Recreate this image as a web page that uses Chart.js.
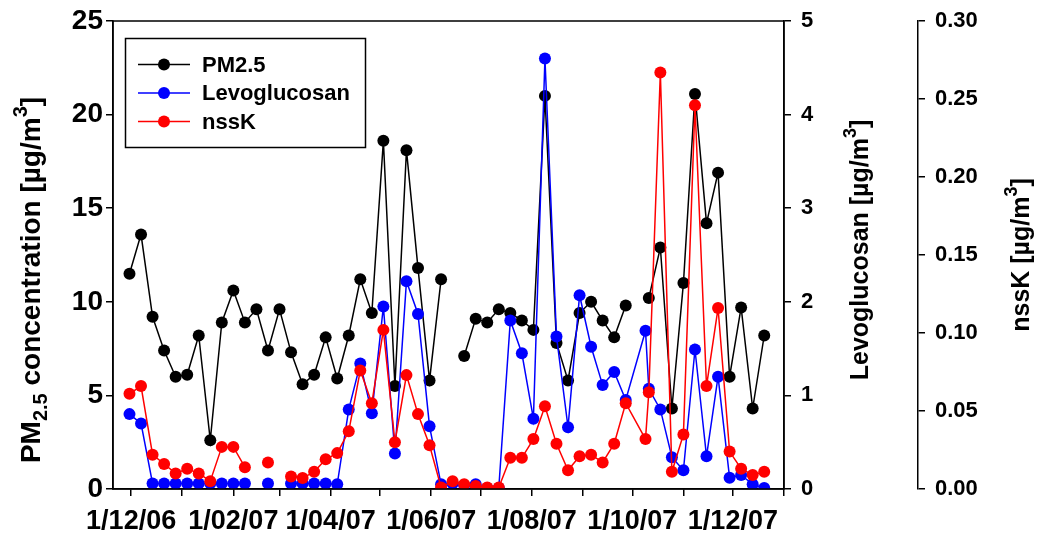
<!DOCTYPE html>
<html>
<head>
<meta charset="utf-8">
<script src="https://cdn.jsdelivr.net/npm/chart.js@4"></script>
<style>
  html, body { margin: 0; padding: 0; background: #fff; }
  #wrap { width: 1039px; height: 533px; }
</style>
</head>
<body>
<div id="wrap"><canvas id="chartLineView"></canvas></div>
<script>
// weekly filter samples (dates are yyyy-mm-dd)
const sampleDates = [
  "2006-11-30", "2006-12-07", "2006-12-14", "2006-12-21", "2006-12-28",
  "2007-01-04", "2007-01-11", "2007-01-18", "2007-01-25", "2007-02-01",
  "2007-02-08", "2007-02-15", "2007-02-22", "2007-03-01", "2007-03-08",
  "2007-03-15", "2007-03-22", "2007-03-29", "2007-04-05", "2007-04-12",
  "2007-04-19", "2007-04-26", "2007-05-03", "2007-05-10", "2007-05-17",
  "2007-05-24", "2007-05-31", "2007-06-07", "2007-06-14", "2007-06-21",
  "2007-06-28", "2007-07-05", "2007-07-12", "2007-07-19", "2007-07-26",
  "2007-08-02", "2007-08-09", "2007-08-16", "2007-08-23", "2007-08-30",
  "2007-09-06", "2007-09-13", "2007-09-20", "2007-09-27", "2007-10-09",
  "2007-10-11", "2007-10-18", "2007-10-25", "2007-11-01", "2007-11-08",
  "2007-11-15", "2007-11-22", "2007-11-29", "2007-12-06", "2007-12-13",
  "2007-12-20"
];

// PM2.5 [ug/m3]
const pm25 = [
  11.5, 13.6, 9.2, 7.4, 6.0, 6.1, 8.2, 2.6, 8.9, 10.6,
  8.9, 9.6, 7.4, 9.6, 7.3, 5.6, 6.1, 8.1, 5.9, 8.2,
  11.2, 9.4, 18.6, 5.5, 18.1, 11.8, 5.8, 11.2, null, 7.1,
  9.1, 8.9, 9.6, 9.4, 9.0, 8.5, 21.0, 7.8, 5.8, 9.4,
  10.0, 9.0, 8.1, 9.8, null, 10.2, 12.9, 4.3, 11.0, 21.1,
  14.2, 16.9, 6.0, 9.7, 4.3, 8.2
];

// levoglucosan [ug/m3]
const levoglucosan = [
  0.80, 0.70, 0.06, 0.06, 0.06, 0.06, 0.06, 0.06, 0.06, 0.06,
  0.06, null, 0.06, null, 0.06, 0.06, 0.06, 0.06, 0.05, 0.85,
  1.34, 0.81, 1.95, 0.38, 2.22, 1.87, 0.67, 0.05, 0.06, 0.04,
  0.05, 0.01, 0.01, 1.80, 1.45, 0.75, 4.60, 1.63, 0.66, 2.07,
  1.52, 1.11, 1.25, 0.95, 1.69, 1.07, 0.85, 0.34, 0.20, 1.49,
  0.35, 1.20, 0.12, 0.15, 0.05, 0.01
];

// non sea-salt potassium [ug/m3]
const nssK = [
  0.061, 0.066, 0.022, 0.016, 0.010, 0.013, 0.010, 0.005, 0.027, 0.027,
  0.014, null, 0.017, null, 0.008, 0.007, 0.011, 0.019, 0.023, 0.037,
  0.076, 0.055, 0.102, 0.030, 0.073, 0.048, 0.028, 0.001, 0.005, 0.003,
  0.002, 0.001, 0.001, 0.020, 0.020, 0.032, 0.053, 0.029, 0.012, 0.021,
  0.022, 0.017, 0.029, 0.055, 0.032, 0.062, 0.267, 0.011, 0.035, 0.246,
  0.066, 0.116, 0.024, 0.013, 0.009, 0.011
];

// month ticks on the time axis, labelled every second month
const monthTicks = [
  "2006-12-01", "2007-01-01", "2007-02-01", "2007-03-01", "2007-04-01",
  "2007-05-01", "2007-06-01", "2007-07-01", "2007-08-01", "2007-09-01",
  "2007-10-01", "2007-11-01", "2007-12-01", "2008-01-01"
];
const monthLabels = [
  "1/12/06", "", "1/02/07", "", "1/04/07", "", "1/06/07", "",
  "1/08/07", "", "1/10/07", "", "1/12/07", ""
];

const FONT = "'Liberation Sans', Arial, sans-serif";
const DAY0 = Date.parse("2006-12-01");
const toDay = (d) => (Date.parse(d) - DAY0) / 86400000;

const points = (vals) => sampleDates.map((d, i) => ({ x: toDay(d), y: vals[i] }));

const series = (label, vals, color, axis, order) => ({
  label: label,
  data: points(vals),
  yAxisID: axis,
  borderColor: color,
  backgroundColor: color,
  pointBackgroundColor: color,
  pointBorderColor: color,
  pointRadius: 6,
  pointBorderWidth: 0,
  borderWidth: 1.5,
  tension: 0,
  spanGaps: false,
  order: order,
});

const data1 = {
  datasets: [
    series("PM2.5", pm25, "#000000", "y", 3),
    series("Levoglucosan", levoglucosan, "#0000ff", "y1", 2),
    series("nssK", nssK, "#ff0000", "y2", 1),
  ],
};

const bigFont = { family: FONT, size: 27, weight: "bold" };
const leftFont = { family: FONT, size: 28, weight: "bold", lineHeight: 1 };
const smallFont = { family: FONT, size: 22, weight: "bold", lineHeight: 1 };
const axisGrid = { display: true, drawOnChartArea: false, drawTicks: true, tickLength: 7, color: "#000", lineWidth: 1.5 };
const axisBorder = { display: true, color: "#000", width: 1.5 };

// frame round the plot area plus the inside legend box
const framePlugin = {
  id: "frame",
  afterDatasetsDraw(chart) {
    const { ctx, chartArea: a } = chart;
    ctx.save();
    ctx.strokeStyle = "#000";
    ctx.lineWidth = 1.5;
    ctx.strokeRect(a.left, a.top, a.right - a.left, a.bottom - a.top);

    // legend
    ctx.strokeRect(125.5, 38.5, 240, 109);
    chart.data.datasets.forEach((ds, i) => {
      const y = 64.5 + i * 28.5;
      ctx.strokeStyle = ds.borderColor;
      ctx.lineWidth = 1.5;
      ctx.beginPath();
      ctx.moveTo(138, y);
      ctx.lineTo(190, y);
      ctx.stroke();
      ctx.fillStyle = ds.borderColor;
      ctx.beginPath();
      ctx.arc(164, y, 6, 0, Math.PI * 2);
      ctx.fill();
      ctx.fillStyle = "#000";
      ctx.font = "bold 22px " + FONT;
      ctx.textBaseline = "middle";
      ctx.textAlign = "left";
      ctx.fillText(ds.label, 202, y + 1);
    });
    ctx.restore();
  },
};

// rotated axis titles with sub/superscripts
function drawRich(ctx, runs, cx, cy) {
  ctx.save();
  ctx.translate(cx, cy);
  ctx.rotate(-Math.PI / 2);
  ctx.fillStyle = "#000";
  ctx.textBaseline = "middle";
  ctx.textAlign = "left";
  let total = 0;
  runs.forEach((r) => {
    ctx.font = "bold " + r.size + "px " + FONT;
    r.w = ctx.measureText(r.t).width;
    total += r.w;
  });
  let x = -total / 2;
  runs.forEach((r) => {
    ctx.font = "bold " + r.size + "px " + FONT;
    ctx.fillText(r.t, x, r.dy || 0);
    x += r.w;
  });
  ctx.restore();
}

const titlePlugin = {
  id: "axisTitles",
  afterDraw(chart) {
    const ctx = chart.ctx;
    drawRich(ctx, [
      { t: "PM", size: 28 },
      { t: "2.5", size: 20, dy: 9 },
      { t: " concentration [µg/m", size: 28 },
      { t: "3", size: 20, dy: -11 },
      { t: "]", size: 28 },
    ], 32, 280);
    drawRich(ctx, [
      { t: "Levoglucosan [µg/m", size: 25 },
      { t: "3", size: 18, dy: -10 },
      { t: "]", size: 25 },
    ], 861, 250);
    drawRich(ctx, [
      { t: "nssK [µg/m", size: 25 },
      { t: "3", size: 18, dy: -10 },
      { t: "]", size: 25 },
    ], 1022, 255);
  },
};

const config = {
  type: "line",
  data: data1,
  options: {
    responsive: true,
    maintainAspectRatio: false,
    animation: false,
    layout: { padding: { top: 19, right: 0, left: 0, bottom: 0 } },
    plugins: { legend: { display: false }, tooltip: { enabled: false } },
    scales: {
      x: {
        type: "linear",
        min: -11,
        max: 396,
        afterBuildTicks: (scale) => {
          scale.ticks = monthTicks.map((d) => ({ value: toDay(d) }));
        },
        afterFit: (scale) => { scale.height = 44; },
        ticks: {
          autoSkip: false,
          maxRotation: 0,
          padding: 9,
          color: "#000",
          font: bigFont,
          callback: (v, i) => monthLabels[i],
        },
        grid: axisGrid,
        border: axisBorder,
      },
      y: {
        position: "left",
        min: 0,
        max: 25,
        afterFit: (scale) => { scale.width = 113; },
        ticks: { stepSize: 5, padding: 3, color: "#000", font: leftFont },
        grid: axisGrid,
        border: axisBorder,
      },
      y1: {
        position: "right",
        weight: 0,
        min: 0,
        max: 5,
        afterFit: (scale) => { scale.width = 134; },
        ticks: { stepSize: 1, padding: 10, color: "#000", font: smallFont },
        grid: axisGrid,
        border: axisBorder,
      },
      y2: {
        position: "right",
        weight: 1,
        min: 0,
        max: 0.3,
        afterFit: (scale) => { scale.width = 121; },
        ticks: {
          stepSize: 0.05,
          padding: 10,
          color: "#000",
          font: smallFont,
          callback: (v) => v.toFixed(2),
        },
        grid: axisGrid,
        border: axisBorder,
      },
    },
  },
  plugins: [framePlugin, titlePlugin],
};

//render the chart
const lineChartView = new Chart(document.getElementById("chartLineView"), config);
</script>
</body>
</html>
